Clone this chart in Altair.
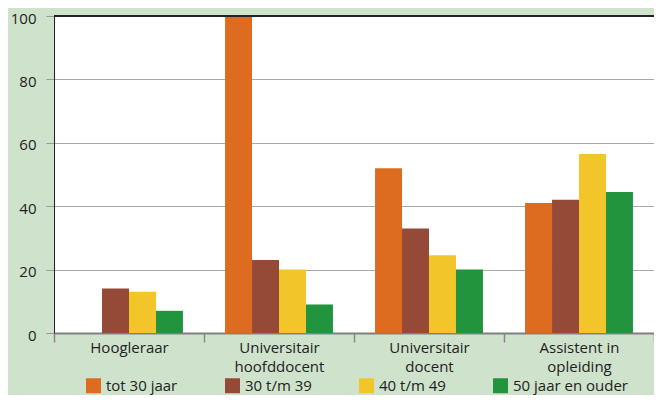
import altair as alt
import pandas as pd

categories = ["Hoogleraar", "Universitair\nhoofddocent", "Universitair\ndocent", "Assistent in\nopleiding"]
ages = ["tot 30 jaar", "30 t/m 39", "40 t/m 49", "50 jaar en ouder"]
colors = ["#dd6c20", "#954a38", "#f2c52a", "#23943e"]

tot30 = [0, 100, 52, 41]
a30_39 = [14, 23, 33, 42]
a40_49 = [13, 20, 24.5, 56.5]
a50plus = [7, 9, 20, 44.5]

series = [tot30, a30_39, a40_49, a50plus]
rows = []
for age, vals in zip(ages, series):
    for cat, v in zip(categories, vals):
        rows.append({"group": cat, "age": age, "value": v})
df = pd.DataFrame(rows)

FONT = "Open Sans"

bars = alt.Chart(df).mark_bar().encode(
    x=alt.X("group:N", sort=categories,
            scale=alt.Scale(paddingInner=0, paddingOuter=0),
            axis=alt.Axis(title=None, labelAngle=0, tickBand="extent",
                          labelExpr="split(datum.label, '\\n')",
                          labelFontSize=15, labelFont=FONT, labelColor="#222",
                          labelLineHeight=19, labelPadding=-2, labelBaseline="top",
                          tickSize=9, tickColor="#888", tickWidth=1.5,
                          domainColor="#808080", domainWidth=2, grid=False)),
    xOffset=alt.XOffset("age:N", sort=ages,
                        scale=alt.Scale(paddingOuter=0.78, paddingInner=0)),
    y=alt.Y("value:Q", scale=alt.Scale(domain=[0, 100], nice=False),
            axis=alt.Axis(title=None, values=[0, 20, 40, 60, 80, 100],
                          labelFontSize=15, labelFont=FONT, labelColor="#222",
                          labelOffset=2,
                          tickSize=8, tickColor="#999", labelPadding=10,
                          domainColor="#222", gridColor="#aaaaaa", gridWidth=1)),
    color=alt.Color("age:N", sort=ages,
                    scale=alt.Scale(domain=ages, range=colors),
                    legend=alt.Legend(title=None, orient="none", legendX=32, legendY=362,
                                      direction="horizontal", columnPadding=47,
                                      symbolType="square", symbolSize=225,
                                      symbolStrokeWidth=0, labelFontSize=15,
                                      labelFont=FONT, labelColor="#222", labelOffset=5)),
)

top_line = alt.Chart(df).mark_rule(color="#222", strokeWidth=1.2).encode(
    y=alt.datum(100)
)

chart = alt.layer(bars, top_line).properties(
    width=600, height=317,
    autosize=alt.AutoSizeParams(type="none"),
    padding={"left": 46, "top": 8, "right": 0, "bottom": 62},
    background="#cfe2cc",
).configure_view(
    fill="white", strokeWidth=0
)

chart.save("out.html", embed_options={"renderer": "svg", "actions": False})
